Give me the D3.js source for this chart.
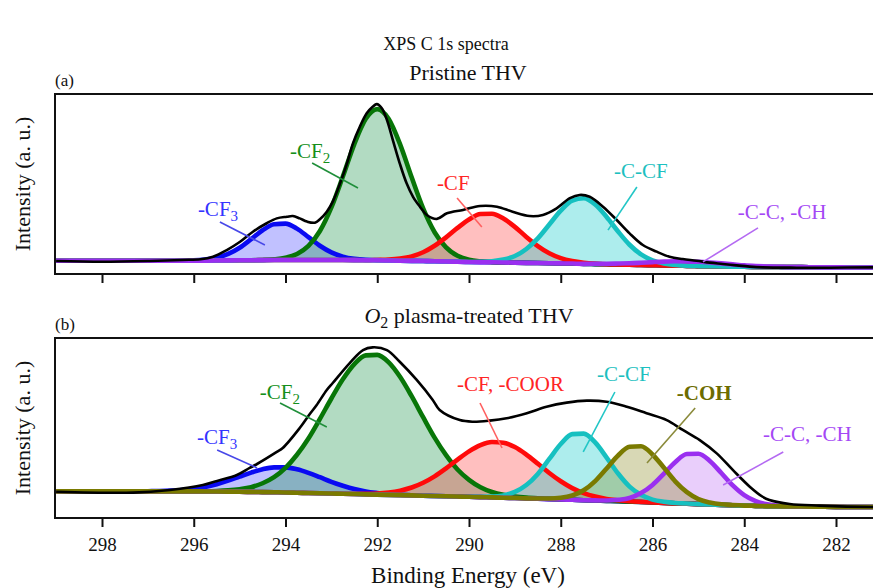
<!DOCTYPE html>
<html><head><meta charset="utf-8">
<script src="https://cdn.jsdelivr.net/npm/d3@7"></script>
<style>
body{margin:0;background:#fff}
svg{display:block}
text{font-family:"Liberation Serif","Times New Roman",serif;fill:#111}
</style>
</head><body>
<svg id="chart" width="873" height="588"></svg>
<script>
// ---------------- DATA ----------------
const tickValues = [298, 296, 294, 292, 290, 288, 286, 284, 282];
const tickLabels = ["298", "296", "294", "292", "290", "288", "286", "284", "282"];

// shared binding-energy grid (eV) for the fitted components
const energyGrid = [299, 298.75, 298.5, 298.25, 298, 297.75, 297.5, 297.25, 297, 296.75, 296.5, 296.25, 296,
  295.75, 295.5, 295.25, 295, 294.75, 294.5, 294.25, 294, 293.75, 293.5, 293.25, 293, 292.75, 292.5, 292.25, 292,
  291.75, 291.5, 291.25, 291, 290.75, 290.5, 290.25, 290, 289.75, 289.5, 289.25, 289, 288.75, 288.5, 288.25, 288,
  287.75, 287.5, 287.25, 287, 286.75, 286.5, 286.25, 286, 285.75, 285.5, 285.25, 285, 284.75, 284.5, 284.25, 284,
  283.75, 283.5, 283.25, 283, 282.75, 282.5, 282.25, 282, 281.75, 281.5, 281.25, 281];

// (a) Pristine THV
const bgA = [7.4, 7.4, 7.4, 7.4, 7.4, 7.4, 7.4, 7.4, 7.4, 7.4, 7.4, 7.4, 7.4,
  7.45, 7.5, 7.55, 7.6, 7.65, 7.7, 7.75, 7.8, 7.8, 7.8, 7.8, 7.8, 7.75, 7.7, 7.65, 7.6,
  7.5, 7.4, 7.3, 7.2, 7.1, 6.95, 6.8, 6.7, 6.6, 6.5, 6.4, 6.3, 6.2, 6.1, 6.0, 5.9,
  5.8, 5.65, 5.5, 5.4, 5.3, 5.15, 5.0, 4.9, 4.8, 4.65, 4.5, 4.4, 4.3, 4.2, 4.1, 4.0,
  3.95, 3.9, 3.85, 3.8, 3.8, 3.75, 3.7, 3.7, 3.65, 3.65, 3.6, 3.6];
const envEnergyA = [299.0, 298.0, 297.0, 296.25, 295.85, 295.58, 295.28, 294.99, 294.71, 294.41, 294.19, 293.97,
  293.84, 293.69, 293.53, 293.36, 293.25, 293.10, 292.97, 292.81, 292.66, 292.53, 292.38, 292.23, 292.10, 292.01,
  291.90, 291.79, 291.66, 291.51, 291.36, 291.22, 291.07, 290.92, 290.70, 290.48, 290.13, 289.76, 289.39, 289.05,
  288.68, 288.39, 288.09, 287.80, 287.59, 287.37, 287.08, 286.78, 286.50, 286.21, 285.91, 285.63, 285.34, 285.04,
  284.75, 284.47, 284.17, 283.88, 283.60, 282.86, 282.14, 281.20, 281.0];
const envA = [7.2, 6.8, 7.2, 7.8, 8.2, 9.6, 13.3, 17.9, 23.5, 28.2, 30.9, 31.8,
  32.2, 30.9, 29.1, 28.5, 30.4, 34.6, 40.2, 50.4, 61.5, 72.6, 81.8, 89.3, 92.9, 94.4,
  92.1, 85.6, 74.4, 61.5, 50.4, 42.9, 37.4, 32.8, 30.6, 33.7, 35.6, 37.8, 37.4, 34.6,
  32.2, 32.8, 36.5, 42.1, 43.9, 42.9, 37.4, 30.0, 22.6, 16.1, 12.4, 9.6, 8.3, 7.4,
  6.3, 5.6, 4.8, 4.1, 3.7, 3.5, 3.5, 3.7, 3.7];
const cf3AStart = 296.25;
const cf3A = [0.1, 0.2, 0.6, 1.5, 3.6, 7.0, 11.7, 16.6, 19.9, 20.2, 17.4, 12.7, 7.9, 4.2, 1.9, 0.7, 0.2, 0.1];
const cf2AStart = 294.5;
const cf2A = [0.1, 0.4, 1.2, 3.3, 7.8, 16.1, 29.2, 46.4, 64.5, 78.6, 84.0, 78.6, 64.5, 46.4, 29.2, 16.1, 7.8, 3.3, 1.2, 0.4, 0.1];
const cfAStart = 292.0;
const cfA = [0.2, 0.5, 1.2, 2.5, 4.9, 8.6, 13.4, 18.8, 23.6, 26.7, 27.0, 24.4, 19.9, 14.4, 9.4, 5.5, 2.9, 1.4, 0.6, 0.2];
const ccfAStart = 289.75;
const ccfA = [0.2, 0.6, 1.6, 3.7, 7.7, 13.7, 21.5, 29.3, 35.0, 36.4, 33.1, 26.3, 18.3, 11.1, 5.9, 2.7, 1.1, 0.4, 0.1];
const ccAStart = 287.25;
const ccA = [0.2, 0.3, 0.5, 0.8, 1.25, 1.7, 2.1, 2.4, 2.5, 2.4, 2.1, 1.7, 1.25, 0.8, 0.5, 0.3, 0.2];

// (b) O2 plasma-treated THV
const bgB = [14.8, 14.8, 14.8, 14.8, 14.8, 14.8, 14.8, 14.8, 14.8, 14.8, 14.8, 14.8, 14.8,
  14.75, 14.7, 14.65, 14.6, 14.5, 14.4, 14.3, 14.2, 14.05, 13.9, 13.75, 13.6, 13.45, 13.3, 13.15, 13.0,
  12.85, 12.7, 12.55, 12.4, 12.25, 12.1, 11.95, 11.8, 11.6, 11.45, 11.25, 11.1, 10.9, 10.7, 10.5, 10.3,
  10.1, 9.9, 9.7, 9.5, 9.3, 9.05, 8.85, 8.6, 8.4, 8.15, 7.95, 7.7, 7.5, 7.3, 7.1, 6.9,
  6.75, 6.6, 6.5, 6.4, 6.35, 6.3, 6.25, 6.2, 6.15, 6.1, 6.1, 6.1];
const envEnergyB = [299.0, 297.32, 296.52, 295.80, 295.49, 295.06, 294.78, 294.62, 294.19, 294.06, 293.69, 293.47,
  293.32, 293.10, 292.97, 292.60, 292.31, 292.10, 291.79, 291.51, 291.14, 290.79, 290.64, 290.20, 289.92, 289.55,
  289.18, 288.74, 288.31, 287.87, 287.43, 287.00, 286.56, 286.13, 285.69, 285.34, 284.97, 284.60, 284.25, 283.88,
  283.60, 283.45, 283.01, 282.36, 281.20, 281.0];
const envB = [14.6, 14.1, 15.6, 18.3, 20.6, 23.9, 27.8, 30.0, 36.7, 38.9, 50.0, 57.8,
  62.8, 71.1, 75.0, 86.1, 93.3, 94.8, 93.3, 86.8, 76.7, 65.6, 60.0, 54.4, 53.5, 54.1,
  55.4, 58.2, 61.8, 64.1, 65.2, 64.6, 61.8, 58.2, 54.4, 48.9, 43.3, 35.9, 26.7, 17.4,
  11.8, 10.0, 7.8, 6.9, 6.1, 6.1];
const cf3BStart = 297.0;
const cf3B = [0.1, 0.2, 0.4, 0.8, 1.4, 2.5, 4.1, 6.1, 8.4, 10.7, 12.7, 13.8, 13.9, 13.0, 11.2, 8.9, 6.5, 4.5, 2.8, 1.6, 0.9, 0.4, 0.2, 0.1];
const cf2BStart = 295.75;
const cf2B = [0.1, 0.3, 0.7, 1.4, 2.6, 4.9, 8.4, 13.7, 21.1, 30.3, 41.3, 52.8, 63.6, 72.2, 77.2, 77.6, 73.6, 65.6, 55.1, 43.6, 32.4, 22.8, 15.0, 9.4, 5.5, 3.0, 1.6, 0.8, 0.4, 0.2, 0.1];
const cfBStart = 292.5;
const cfB = [0.1, 0.3, 0.6, 1.3, 2.5, 4.4, 7.2, 10.9, 15.5, 20.5, 25.2, 28.9, 30.8, 30.6, 28.3, 24.3, 19.5, 14.5, 10.1, 6.5, 3.9, 2.2, 1.1, 0.6, 0.3, 0.1];
const ccfBStart = 290.0;
const ccfB = [0.1, 0.2, 0.4, 1.3, 3.4, 7.4, 13.8, 22.3, 30.8, 36.5, 37.0, 32.3, 24.1, 15.4, 8.4, 4.0, 1.6, 0.6, 0.2, 0.1];
const cohBStart = 288.5;
const cohB = [0.1, 0.3, 0.9, 2.4, 5.5, 10.8, 18.0, 25.4, 30.5, 31.0, 26.7, 19.5, 12.1, 6.4, 2.8, 1.1, 0.3, 0.1];
const ccBStart = 287.25;
const ccB = [0.1, 0.2, 0.8, 2.1, 5.0, 9.8, 16.3, 23.0, 27.6, 28.0, 24.2, 17.7, 11.0, 5.8, 2.6, 1.0, 0.3, 0.1];

// ---------------- STYLE / LAYOUT ----------------
const C = {
  cf3: {line: "#0a0af2", fill: "#2020ff", fop: 0.28, text: "#3434ff", lead: "#4848e8"},
  cf2: {line: "#087608", fill: "#0e9040", fop: 0.32, text: "#158f1a", lead: "#1f8f3a"},
  cf:  {line: "#ff0a0a", fill: "#ff1a1a", fop: 0.28, text: "#ff2424", lead: "#ff6060"},
  ccf: {line: "#16c0c0", fill: "#00c6c6", fop: 0.32, text: "#1cc0c0", lead: "#22c6c6"},
  coh: {line: "#7a7a00", fill: "#85851a", fop: 0.32, text: "#6c6c00", lead: "#8a8a3a"},
  cc:  {line: "#9a2ff0", fill: "#a63af0", fop: 0.25, text: "#a448f5", lead: "#b46af2"}
};

const x = d3.scaleLinear().domain([298, 282]).range([102, 836]);
const svg = d3.select("#chart");

function series(start, vals, bg) {
  const i0 = energyGrid.indexOf(start);
  return energyGrid.map((e, i) => ({e: e, b: bg[i], v: (i >= i0 && i - i0 < vals.length) ? vals[i - i0] : 0}));
}

const panels = [
  {
    id: "a", top: 94, bottom: 274, bg: bgA, envE: envEnergyA, env: envA, showLabels: false,
    comps: [
      {key: "cf3", start: cf3AStart, vals: cf3A, parts: [["-CF"], ["3", 1]], t: [295.91, 32.2], l: [[295.43, 28.9], [294.45, 16.1]]},
      {key: "cf2", start: cf2AStart, vals: cf2A, parts: [["-CF"], ["2", 1]], t: [293.90, 64.4], l: [[293.42, 61.7], [292.42, 47.8]]},
      {key: "cf",  start: cfAStart,  vals: cfA,  parts: [["-CF"]], t: [290.70, 46.7], l: [[290.26, 42.2], [289.72, 26.1]]},
      {key: "ccf", start: ccfAStart, vals: ccfA, parts: [["-C-CF"]], t: [286.84, 53.3], l: [[286.34, 48.3], [286.97, 24.4]]},
      {key: "cc",  start: ccAStart,  vals: ccA,  parts: [["-C-C, -CH"]], t: [284.14, 30.6], l: [[283.70, 25.6], [284.90, 6.7]]}
    ]
  },
  {
    id: "b", top: 338, bottom: 518, bg: bgB, envE: envEnergyB, env: envB, showLabels: true,
    comps: [
      {key: "cf3", start: cf3BStart, vals: cf3B, parts: [["-CF"], ["3", 1]], t: [295.93, 41.1], l: [[295.49, 37.8], [294.62, 27.8]]},
      {key: "cf2", start: cf2BStart, vals: cf2B, parts: [["-CF"], ["2", 1]], t: [294.56, 66.1], l: [[294.12, 63.9], [293.10, 50.6]]},
      {key: "cf",  start: cfBStart,  vals: cfB,  parts: [["-CF, -COOR"]], t: [290.26, 70.6], l: [[289.76, 63.9], [289.28, 38.9]]},
      {key: "ccf", start: ccfBStart, vals: ccfB, parts: [["-C-CF"]], t: [287.21, 76.1], l: [[286.82, 70.0], [287.51, 36.7]]},
      {key: "cc",  start: ccBStart,  vals: ccB,  parts: [["-C-C, -CH"]], t: [283.59, 42.8], l: [[283.15, 36.7], [284.46, 18.3]]},
      {key: "coh", start: cohBStart, vals: cohB, parts: [["-COH"]], t: [285.47, 65.6], l: [[285.07, 61.1], [286.12, 30.6]], bold: true}
    ]
  }
];

const defs = svg.append("defs");

panels.forEach(p => {
  const y = d3.scaleLinear().domain([0, 100]).range([p.bottom, p.top]);
  defs.append("clipPath").attr("id", "clip-" + p.id)
    .append("rect").attr("x", 56).attr("y", p.top + 1).attr("width", 830).attr("height", p.bottom - p.top - 2);

  const g = svg.append("g");
  const plot = g.append("g").attr("clip-path", "url(#clip-" + p.id + ")");

  const area = d3.area().x(d => x(d.e)).y0(d => y(d.b)).y1(d => y(d.b + d.v)).curve(d3.curveMonotoneX);
  const line = d3.line().x(d => x(d.e)).y(d => y(d.b + d.v)).curve(d3.curveMonotoneX);

  const data = p.comps.map(c => series(c.start, c.vals, p.bg));
  p.comps.forEach((c, k) => {
    plot.append("path").datum(data[k]).attr("d", area)
      .attr("fill", C[c.key].fill).attr("fill-opacity", C[c.key].fop).attr("stroke", "none");
  });
  p.comps.forEach((c, k) => {
    plot.append("path").datum(data[k]).attr("d", line)
      .attr("fill", "none").attr("stroke", C[c.key].line).attr("stroke-width", 4.6)
      .attr("stroke-linejoin", "round");
  });
  const envPts = p.envE.map((e, i) => ({e: e, v: p.env[i]}));
  plot.append("path").datum(envPts)
    .attr("d", d3.line().x(d => x(d.e)).y(d => y(d.v)).curve(d3.curveCatmullRom.alpha(0.5)))
    .attr("fill", "none").attr("stroke", "#000").attr("stroke-width", 2.6).attr("stroke-linejoin", "round");

  p.comps.forEach(c => {
    g.append("line")
      .attr("x1", x(c.l[0][0])).attr("y1", y(c.l[0][1]))
      .attr("x2", x(c.l[1][0])).attr("y2", y(c.l[1][1]))
      .attr("stroke", C[c.key].lead).attr("stroke-width", 1.6);
    const t = g.append("text").attr("x", x(c.t[0])).attr("y", y(c.t[1]))
      .attr("font-size", 21).style("fill", C[c.key].text)
      .attr("font-weight", c.bold ? "bold" : null);
    c.parts.forEach(pt => {
      if (pt[1]) t.append("tspan").attr("dy", 5).attr("font-size", 15).text(pt[0]);
      else t.append("tspan").text(pt[0]);
    });
  });

  g.append("rect").attr("x", 55).attr("y", p.top).attr("width", 840).attr("height", p.bottom - p.top)
    .attr("fill", "none").attr("stroke", "#111").attr("stroke-width", 2);

  const axis = d3.axisBottom(x).tickValues(tickValues).tickSize(9).tickPadding(11)
    .tickFormat((d, i) => p.showLabels ? tickLabels[i] : "");
  const ax = g.append("g").attr("transform", "translate(0," + p.bottom + ")").call(axis);
  ax.select(".domain").remove();
  ax.selectAll(".tick line").attr("stroke", "#111").attr("stroke-width", 2);
  ax.selectAll(".tick text").attr("font-size", 19).attr("font-family", "Liberation Serif").style("fill", "#111");

  const cy = (p.top + p.bottom) / 2;
  g.append("text").attr("transform", "translate(30," + cy + ") rotate(-90)")
    .attr("text-anchor", "middle").attr("font-size", 22).text("Intensity (a. u.)");
});

svg.append("text").attr("x", 446).attr("y", 50).attr("text-anchor", "middle").attr("font-size", 18).text("XPS C 1s spectra");
svg.append("text").attr("x", 55).attr("y", 86).attr("font-size", 17).text("(a)");
svg.append("text").attr("x", 468).attr("y", 80).attr("text-anchor", "middle").attr("font-size", 22).text("Pristine THV");
svg.append("text").attr("x", 55).attr("y", 330).attr("font-size", 17).text("(b)");
const tb = svg.append("text").attr("x", 469).attr("y", 323).attr("text-anchor", "middle").attr("font-size", 22);
tb.append("tspan").attr("font-style", "italic").text("O");
tb.append("tspan").attr("dy", 5).attr("font-size", 16).text("2");
tb.append("tspan").attr("dy", -5).text(" plasma-treated THV");
svg.append("text").attr("x", 468).attr("y", 583).attr("text-anchor", "middle").attr("font-size", 23).text("Binding Energy (eV)");
</script>
</body></html>
